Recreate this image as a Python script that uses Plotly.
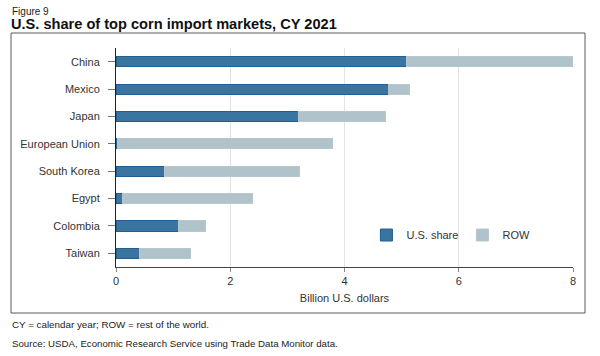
import plotly.graph_objects as go

markets = ["China", "Mexico", "Japan", "European Union", "South Korea", "Egypt", "Colombia", "Taiwan"]
us_share = [5.09, 4.77, 3.19, 0.02, 0.85, 0.11, 1.09, 0.42]
row = [2.90, 0.36, 1.53, 3.77, 2.37, 2.28, 0.47, 0.89]
x_ticks = [0, 2, 4, 6, 8]

FONT = "Liberation Sans, Arial, sans-serif"

fig = go.Figure()
fig.add_trace(go.Bar(
    y=markets, x=us_share, orientation="h", name="U.S. share",
    marker=dict(color="#3a74a1", line=dict(color="#1f5f91", width=1)),
    width=0.37,
))
fig.add_trace(go.Bar(
    y=markets, x=row, orientation="h", name="ROW",
    marker=dict(color="#b0c2ca", line=dict(color="#b6c7ce", width=1)),
    width=0.37,
))

fig.update_layout(
    barmode="stack",
    width=600, height=356,
    margin=dict(l=116, r=27, t=48, b=89),
    paper_bgcolor="white", plot_bgcolor="white",
    font=dict(family=FONT, size=11, color="#333333"),
    showlegend=True,
    legend=dict(
        orientation="h", x=0.548, y=0.146, xanchor="left", yanchor="middle",
        traceorder="normal", itemwidth=30, entrywidth=51,
        font=dict(size=11, color="#333333"), bgcolor="rgba(0,0,0,0)",
    ),
    xaxis=dict(
        range=[0, 8.0], tickvals=x_ticks, ticktext=[str(v) for v in x_ticks],
        showgrid=True, gridcolor="#e3e3e3", gridwidth=1,
        zeroline=False, showline=True, linecolor="#444444", linewidth=1,
        ticks="outside", ticklen=4, tickcolor="#888888",
        tickfont=dict(size=11, color="#333333"),
        title=dict(text="Billion U.S. dollars", font=dict(size=11, color="#333333"), standoff=8),
    ),
    yaxis=dict(
        categoryorder="array", categoryarray=markets, autorange="reversed",
        range=[7.5, -0.5],
        showline=True, linecolor="#222222", linewidth=1,
        ticks="outside", ticklen=7, tickcolor="#777777",
        ticklabelstandoff=6,
        tickfont=dict(size=11, color="#333333"),
        showgrid=False,
    ),
)

# outer frame
fig.add_shape(type="rect", xref="paper", yref="paper",
              x0=(11 - 116) / 457, x1=(585 - 116) / 457,
              y0=(267 - 313) / 219, y1=(267 - 33) / 219,
              line=dict(color="#5a5a5a", width=1), layer="above")

fig.add_annotation(text="Figure 9", xref="paper", yref="paper",
                   x=(10 - 116) / 457, y=(267 - 11) / 219, xanchor="left", yanchor="middle",
                   showarrow=False, font=dict(size=10, color="#222222", family=FONT))
fig.add_annotation(text="<b>U.S. share of top corn import markets, CY 2021</b>", xref="paper", yref="paper",
                   x=(9 - 116) / 457, y=(267 - 24) / 219, xanchor="left", yanchor="middle",
                   showarrow=False, font=dict(size=14.6, color="#111111", family=FONT))
fig.add_annotation(text="CY = calendar year; ROW = rest of the world.", xref="paper", yref="paper",
                   x=(10 - 116) / 457, y=(267 - 324) / 219, xanchor="left", yanchor="middle",
                   showarrow=False, font=dict(size=9.8, color="#222222", family=FONT))
fig.add_annotation(text="Source: USDA, Economic Research Service using Trade Data Monitor data.", xref="paper", yref="paper",
                   x=(10 - 116) / 457, y=(267 - 343) / 219, xanchor="left", yanchor="middle",
                   showarrow=False, font=dict(size=9.7, color="#222222", family=FONT))

fig.write_html("out.html", config={"displayModeBar": False},
               post_script="document.body.style.margin='0';")
